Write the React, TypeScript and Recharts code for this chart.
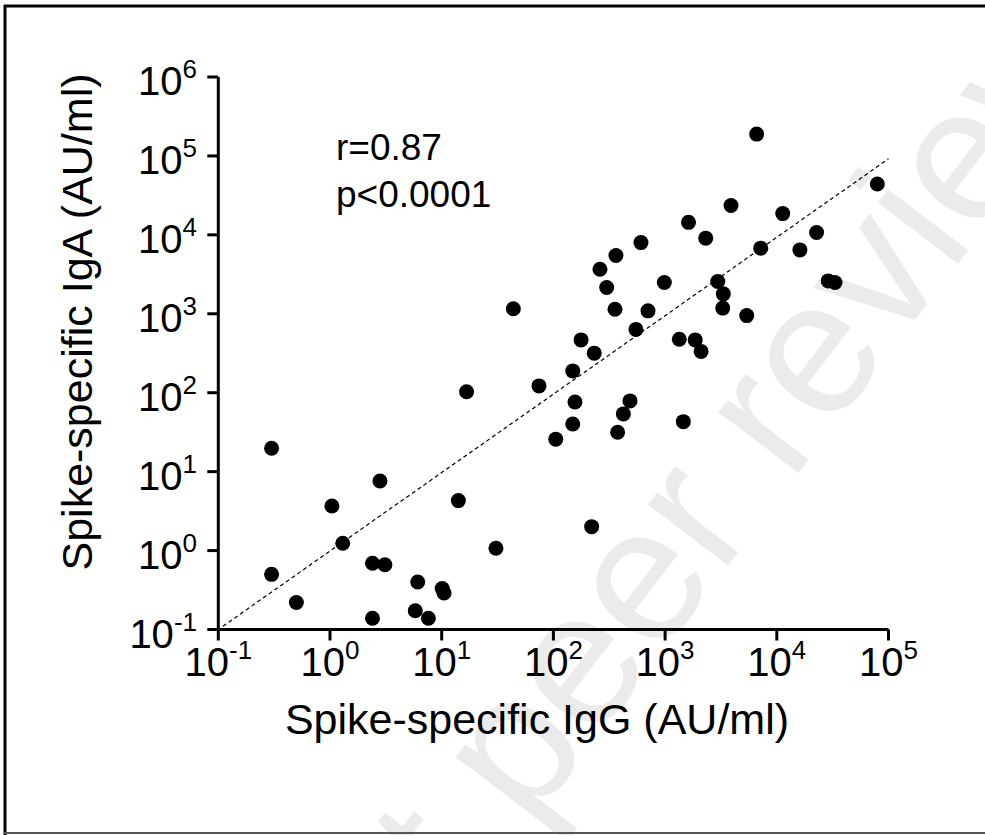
import React from 'react';
import {
  ScatterChart,
  Scatter,
  XAxis,
  YAxis,
  ReferenceLine,
} from 'recharts';

// IgG (x) and IgA (y), AU/ml, one entry per subject
const iggValues = [
  0.3, 0.3, 0.5, 1.04, 1.3, 2.8, 2.4, 3.1, 2.4, 6.1, 5.8, 7.6, 10.1, 10.5,
  14.1, 30.6, 105, 6600, 79400, 3890, 11300, 1620, 2310, 608, 363, 261, 300,
  984, 43.8, 356, 703, 548, 177, 232, 1340, 1860, 2100, 149, 16.7, 74.3, 156,
  485, 423, 149, 376, 1456, 22700, 16100, 7180, 2960, 3320, 3280, 5380, 28900,
  33200, 220,
];
const igaValues = [
  19.8, 0.5, 0.22, 3.67, 1.24, 7.6, 0.69, 0.66, 0.139, 0.4, 0.173, 0.139, 0.33,
  0.29, 4.3, 1.07, 25.8, 189000, 44000, 23500, 18600, 14400, 9080, 7980, 5470,
  3670, 2150, 2490, 1160, 1140, 1090, 634, 467, 317, 476, 467, 334, 189, 103,
  122, 76.4, 78.7, 53.9, 40.2, 31.6, 43.0, 10700, 6450, 6780, 2560, 1790, 1180,
  949, 2610, 2490, 2.01,
];

const xTicks = [0.1, 1, 10, 100, 1000, 10000, 100000];
const yTicks = [0.1, 1, 10, 100, 1000, 10000, 100000, 1000000];

// regression line end points
const fitStart = { x: 0.11, y: 0.11 };
const fitEnd = { x: 100000, y: 92000 };

const statLines = ['r=0.87', 'p<0.0001'];

const points = iggValues.map((x, i) => ({ x, y: igaValues[i] }));

const FONT = '"Liberation Sans", Arial, Helvetica, sans-serif';

const expOf = (v: number) => String(Math.round(Math.log10(v)));

const XTick = (props: any) => {
  const { x, y, payload } = props;
  return (
    <text
      x={x}
      y={y + 33}
      textAnchor="middle"
      fontFamily={FONT}
      fontSize={40}
      fill="#000"
    >
      10
      <tspan dy={-17} fontSize={26}>
        {expOf(payload.value)}
      </tspan>
    </text>
  );
};

const YTick = (props: any) => {
  const { y, payload } = props;
  return (
    <text
      x={197}
      y={y + 18}
      textAnchor="end"
      fontFamily={FONT}
      fontSize={40}
      fill="#000"
    >
      10
      <tspan dy={-17} fontSize={26}>
        {expOf(payload.value)}
      </tspan>
    </text>
  );
};

const Dot = (props: any) => <circle cx={props.cx} cy={props.cy} r={7.5} fill="#000" />;

export default function App() {
  return (
    <div
      style={{
        position: 'absolute',
        left: 0,
        top: 0,
        width: 985,
        height: 835,
        background: '#fff',
        overflow: 'hidden',
      }}
    >
      {/* watermark + frame, behind the chart */}
      <svg
        width={985}
        height={835}
        style={{ position: 'absolute', left: 0, top: 0 }}
      >
        <text
          x={784}
          y={492}
          textAnchor="middle"
          fontFamily={FONT}
          fontSize={190}
          fill="#ebebeb"
          transform="rotate(-52.7 784 492)"
        >
          Not peer reviewed
        </text>
        <line x1={4} y1={6} x2={985} y2={6} stroke="#000" strokeWidth={3} />
        <line x1={5} y1={5} x2={5} y2={835} stroke="#000" strokeWidth={3} />
        <line x1={4} y1={833} x2={985} y2={833} stroke="#555" strokeWidth={2} />
      </svg>

      <div style={{ position: 'absolute', left: 0, top: 0 }}>
        <ScatterChart
          width={985}
          height={835}
          margin={{ top: 77, right: 96.5, bottom: 145.5, left: 138.3 }}
        >
          <XAxis
            type="number"
            dataKey="x"
            scale="log"
            domain={[0.1, 100000]}
            ticks={xTicks}
            allowDataOverflow
            height={60}
            axisLine={{ stroke: '#000', strokeWidth: 3 }}
            tickLine={{ stroke: '#000', strokeWidth: 3 }}
            tickSize={11}
            tick={<XTick />}
            interval={0}
          />
          <YAxis
            type="number"
            dataKey="y"
            scale="log"
            domain={[0.1, 1000000]}
            ticks={yTicks}
            allowDataOverflow
            width={80}
            axisLine={{ stroke: '#000', strokeWidth: 3 }}
            tickLine={{ stroke: '#000', strokeWidth: 3 }}
            tickSize={11}
            tick={<YTick />}
            interval={0}
          />
          <ReferenceLine
            segment={[fitStart, fitEnd]}
            stroke="#000"
            strokeWidth={1.2}
            strokeDasharray="4 3"
            ifOverflow="visible"
          />
          <Scatter data={points} shape={<Dot />} isAnimationActive={false} />
        </ScatterChart>
      </div>

      {/* titles and statistics */}
      <svg
        width={985}
        height={835}
        style={{ position: 'absolute', left: 0, top: 0, pointerEvents: 'none' }}
      >
        <text
          x={537}
          y={734}
          textAnchor="middle"
          fontFamily={FONT}
          fontSize={43}
          fill="#000"
        >
          Spike-specific IgG (AU/ml)
        </text>
        <text
          x={0}
          y={0}
          textAnchor="middle"
          fontFamily={FONT}
          fontSize={43}
          fill="#000"
          transform="translate(92 322) rotate(-90)"
        >
          Spike-specific IgA (AU/ml)
        </text>
        {statLines.map((s, i) => (
          <text
            key={s}
            x={336}
            y={160 + i * 46.7}
            fontFamily={FONT}
            fontSize={37}
            fill="#000"
          >
            {s}
          </text>
        ))}
      </svg>
    </div>
  );
}
